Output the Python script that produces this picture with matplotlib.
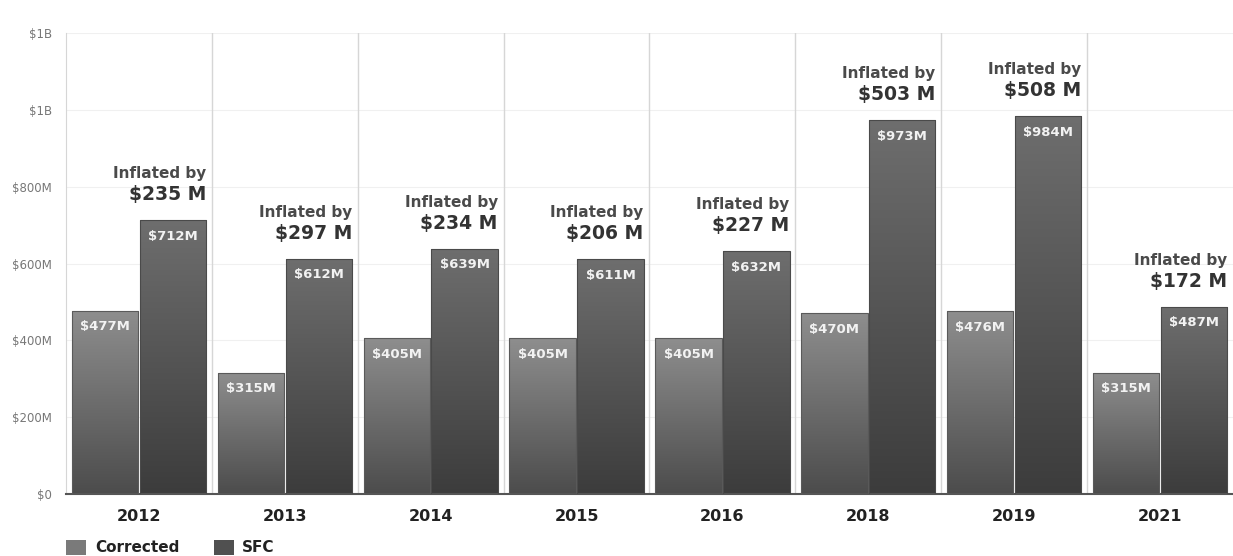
import numpy as np
import matplotlib.pyplot as plt
from matplotlib.patches import Rectangle
from matplotlib.colors import LinearSegmentedColormap

years = ['2012', '2013', '2014', '2015', '2016', '2018', '2019', '2021']
corrected = [477, 315, 405, 405, 405, 470, 476, 315]
sfc = [712, 612, 639, 611, 632, 973, 984, 487]
inflated = [235, 297, 234, 206, 227, 503, 508, 172]
yticks = [0, 200, 400, 600, 800, 1000, 1200]
ytick_labels = ['$0', '$200M', '$400M', '$600M', '$800M', '$1B', '$1B']

plt.rcParams['font.family'] = 'DejaVu Sans'

fig = plt.figure(figsize=(12.33, 5.56), dpi=100)
ax = fig.add_axes([0.0535, 0.1115, 0.9465, 0.8291])

cmap_corr = LinearSegmentedColormap.from_list('corr', ['#4c4c4c', '#8e8e8e'])
cmap_sfc = LinearSegmentedColormap.from_list('sfc', ['#3c3c3c', '#6e6e6e'])
grad = np.linspace(0, 1, 256).reshape(-1, 1)

x = np.arange(len(years))
w = 0.455


def grad_bar(x0, h, cmap, edge):
    rect = Rectangle((x0, 0), w, h, facecolor='none', edgecolor=edge, lw=0.8, zorder=3)
    ax.add_patch(rect)
    im = ax.imshow(grad, cmap=cmap, origin='lower', aspect='auto',
                   extent=(x0, x0 + w, 0, h), zorder=2, interpolation='bilinear')
    im.set_clip_path(rect)


for i in range(len(years)):
    xc = x[i] - w - 0.005
    xs = x[i] + 0.005
    grad_bar(xc, corrected[i], cmap_corr, '#5a5a5a')
    grad_bar(xs, sfc[i], cmap_sfc, '#4a4a4a')
    ax.annotate('$%dM' % corrected[i], (xc + w / 2, corrected[i]), xytext=(0, -16),
                textcoords='offset pixels', ha='center', va='center',
                color='#f2f2f2', fontsize=9.5, fontweight='bold', zorder=4)
    ax.annotate('$%dM' % sfc[i], (xs + w / 2, sfc[i]), xytext=(0, -16),
                textcoords='offset pixels', ha='center', va='center',
                color='#f2f2f2', fontsize=9.5, fontweight='bold', zorder=4)
    ax.annotate('$%d M' % inflated[i], (xs + w, sfc[i]), xytext=(0, 16),
                textcoords='offset pixels', ha='right', va='bottom',
                color='#333333', fontsize=13.5, fontweight='bold', zorder=4)
    ax.annotate('Inflated by', (xs + w, sfc[i]), xytext=(0, 39),
                textcoords='offset pixels', ha='right', va='bottom',
                color='#4a4a4a', fontsize=11, fontweight='bold', zorder=4)

ax.set_xlim(-0.5, len(years) - 0.5)
ax.set_ylim(0, 1200)
ax.set_yticks(yticks)
ax.set_yticklabels(ytick_labels)
ax.set_xticks(x)
ax.set_xticklabels(years, fontsize=11.5, fontweight='bold', color='#222222')
ax.tick_params(axis='y', length=0, labelsize=8.5, labelcolor='#777777', pad=10)
ax.tick_params(axis='x', length=0, pad=11)

for yv in yticks[1:]:
    ax.axhline(yv, color='#f0f0f0', lw=0.8, zorder=0)
for xv in np.arange(0.5, len(years) - 0.5):
    ax.axvline(xv, color='#d6d6d6', lw=1, zorder=1)

for s in ['top', 'right']:
    ax.spines[s].set_visible(False)
ax.spines['left'].set_color('#d6d6d6')
ax.spines['bottom'].set_color('#555555')
ax.spines['bottom'].set_linewidth(1.5)

# legend along the bottom edge
fig.patches.append(Rectangle((66 / 1233, 1 - 555 / 556), 20 / 1233, 15 / 556,
                             transform=fig.transFigure, facecolor='#7a7a7a', edgecolor='none'))
fig.text(95 / 1233, 1 - 548 / 556, 'Corrected', fontsize=11, fontweight='bold',
         color='#222222', va='center')
fig.patches.append(Rectangle((214 / 1233, 1 - 555 / 556), 20 / 1233, 15 / 556,
                             transform=fig.transFigure, facecolor='#505050', edgecolor='none'))
fig.text(242 / 1233, 1 - 548 / 556, 'SFC', fontsize=11, fontweight='bold',
         color='#222222', va='center')

fig.savefig('out.png', dpi=100)
